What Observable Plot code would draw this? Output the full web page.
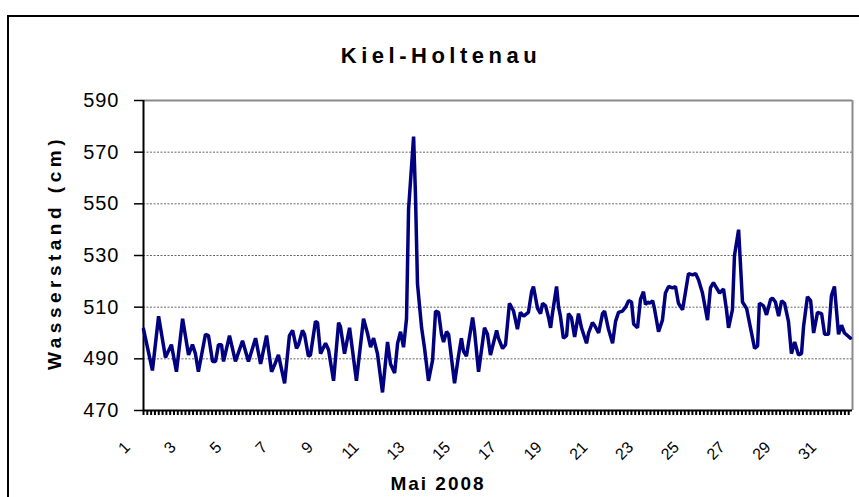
<!DOCTYPE html>
<html><head><meta charset="utf-8">
<script src="https://cdn.jsdelivr.net/npm/d3@7"></script>
<script src="https://cdn.jsdelivr.net/npm/@observablehq/plot@0.6"></script>
<style>
html,body{margin:0;padding:0;background:#fff;overflow:hidden;}
#wrap{position:relative;width:859px;height:497px;overflow:hidden;}
#border{position:absolute;left:7px;top:15px;width:900px;height:600px;border:2px solid #000;box-sizing:border-box;}
#chart{position:absolute;left:0;top:0;}
</style>
</head><body>
<div id="wrap"><div id="border"></div><div id="chart"></div></div>
<script>
// Time in days of May 2008, water level in cm
const days = [1.00,1.39,1.66,1.96,2.22,2.44,2.71,2.97,3.14,3.27,3.40,3.71,3.84,4.02,4.15,4.28,4.41,4.50,4.76,5.02,5.33,5.59,5.90,6.12,6.38,6.60,6.77,6.90,7.17,7.38,7.52,7.69,7.78,7.95,8.04,8.21,8.30,8.52,8.61,8.74,8.96,9.09,9.31,9.53,9.61,9.79,10.01,10.31,10.62,10.79,10.93,11.06,11.23,11.45,11.67,11.80,11.98,12.11,12.24,12.37,12.50,12.59,12.81,12.89,12.98,13.16,13.29,13.46,13.64,13.77,13.90,14.03,14.12,14.25,14.34,14.60,14.77,14.90,14.99,15.12,15.39,15.47,15.65,15.91,16.04,16.17,16.44,16.52,16.70,16.83,17.00,17.18,17.35,17.48,17.62,17.83,17.97,18.05,18.23,18.36,18.45,18.58,18.71,18.80,18.88,19.06,19.15,19.23,19.36,19.50,19.58,19.71,19.85,20.02,20.15,20.37,20.46,20.63,20.72,20.90,21.07,21.16,21.33,21.51,21.64,21.77,21.94,22.08,22.21,22.34,22.43,22.60,22.73,22.86,22.95,23.04,23.13,23.26,23.34,23.52,23.69,23.82,23.96,24.13,24.26,24.39,24.57,24.70,24.83,25.01,25.14,25.27,25.44,25.66,25.79,25.92,26.05,26.19,26.36,26.49,26.58,26.75,26.84,27.02,27.19,27.37,27.54,27.72,27.85,27.93,28.11,28.24,28.42,28.50,28.63,28.77,28.90,29.03,29.20,29.33,29.47,29.64,29.77,29.86,30.03,30.17,30.30,30.47,30.65,30.78,30.95,31.08,31.21,31.39,31.52,31.65,31.91];
const levels = [501.5,485.5,506.5,490.5,495.5,485,505.5,491.5,495.5,492,485,499.5,499,489,489,495.5,495.5,489,499,489,497,489,498,488,499,485,488.5,491.5,480.5,499,501,494,495.5,501,499.5,491,491.5,504.5,504,492,496,493.5,481.5,504,502.5,492,502,481.5,505.5,500,494.5,498,492,477,496.5,488,484.5,496,500.5,494.5,505.5,548,576,554,519,502,494,481.5,489.5,508.5,508,499.5,496.5,500.5,499.5,480.5,491,498,493,491,506,501,485,502,499.5,491.5,501,498,494,495.5,511.5,508.5,501.5,508,506.5,508,516,518,509.5,507.5,511.5,510.5,506,502,507.5,518,510,506.5,498,499,507.5,506,498.5,507.5,502,496,500,504,503,500,507.5,508.5,501.5,496,504.5,508,508.5,510,512.5,512,503.5,502,513,516,511,512,511.5,512.5,509.5,500.5,505,515.5,518,517.5,518,511.5,509,516,523,522.5,523,520.5,515.5,505,517.5,519.5,517.5,515.5,517,509,502,509,530,540,512,509.5,502,494,495,511.5,510.5,507,513,513.5,512,506.5,512.5,511.5,504.5,492,496.5,491.5,492,502.5,514,512.5,500,508,507.5,499.5,499.5,514.5,518,499.5,503,500,498];
const dayLabels = [1,3,5,7,9,11,13,15,17,19,21,23,25,27,29,31];
const yTicks = [470,490,510,530,550,570,590];
const gridLevels = [490,510,530,550,570];
const xStart = 1, xEnd = 32;
const minorTicks = d3.range(xStart, xEnd, 1/6);
const title = "Kiel-Holtenau";
const yTitle = "Wasserstand (cm)";
const xTitle = "Mai 2008";

const data = days.map((d, i) => ({day: d, level: levels[i]}));
const font = "'Liberation Sans', Arial, Helvetica, sans-serif";

const chart = Plot.plot({
  width: 859, height: 497,
  marginLeft: 143, marginRight: 7, marginTop: 100, marginBottom: 87,
  x: {domain: [xStart, xEnd]},
  y: {domain: [470, 590]},
  style: {fontFamily: font, background: "transparent", color: "#000", overflow: "visible"},
  marks: [
    Plot.ruleY(gridLevels, {stroke: "#666", strokeWidth: 1, strokeDasharray: "2,1.5"}),
    Plot.ruleY([590], {stroke: "#8a8a8a", strokeWidth: 2}),
    Plot.ruleX([xEnd], {stroke: "#8a8a8a", strokeWidth: 2}),
    Plot.axisX({ticks: minorTicks, tickSize: 5, tickFormat: () => "", label: null, strokeWidth: 2, stroke: "#000"}),
    Plot.axisY({ticks: yTicks, tickSize: 9, tickPadding: 15, fontSize: 20, label: null, strokeWidth: 1.5, stroke: "#000", fill: "#000"}),
    Plot.ruleX([xStart], {stroke: "#000", strokeWidth: 2}),
    Plot.ruleY([470], {stroke: "#000", strokeWidth: 2}),
    Plot.line(data, {x: "day", y: "level", stroke: "#000080", strokeWidth: 3.5, strokeLinejoin: "miter"}),
    Plot.text(dayLabels, {x: d => d, frameAnchor: "bottom", dx: -16, dy: 34, rotate: -45, textAnchor: "end", lineAnchor: "middle", fontSize: 16, fill: "#000"}),
    Plot.text([title], {frameAnchor: "top", dx: -57, dy: -45, textAnchor: "middle", lineAnchor: "middle", fontSize: 22, fontWeight: "bold", fill: "#000"}),
    Plot.text([xTitle], {frameAnchor: "bottom", dx: -60, dy: 73, textAnchor: "middle", lineAnchor: "middle", fontSize: 19, fontWeight: "bold", fill: "#000"}),
    Plot.text([yTitle], {frameAnchor: "left", dx: -89, dy: -3, rotate: -90, textAnchor: "middle", lineAnchor: "middle", fontSize: 19, fontWeight: "bold", fill: "#000"})
  ]
});
document.getElementById("chart").appendChild(chart);
// letter spacing to match the wide Excel-style lettering
const spacing = {[title]: "4.5px", [yTitle]: "4.5px", [xTitle]: "2px"};
d3.select(chart).selectAll("text").each(function() {
  const t = this.textContent;
  if (spacing[t]) d3.select(this).style("letter-spacing", spacing[t]);
  else if (/^\d{3}$/.test(t)) d3.select(this).style("letter-spacing", "1px");
});
</script>
</body></html>
